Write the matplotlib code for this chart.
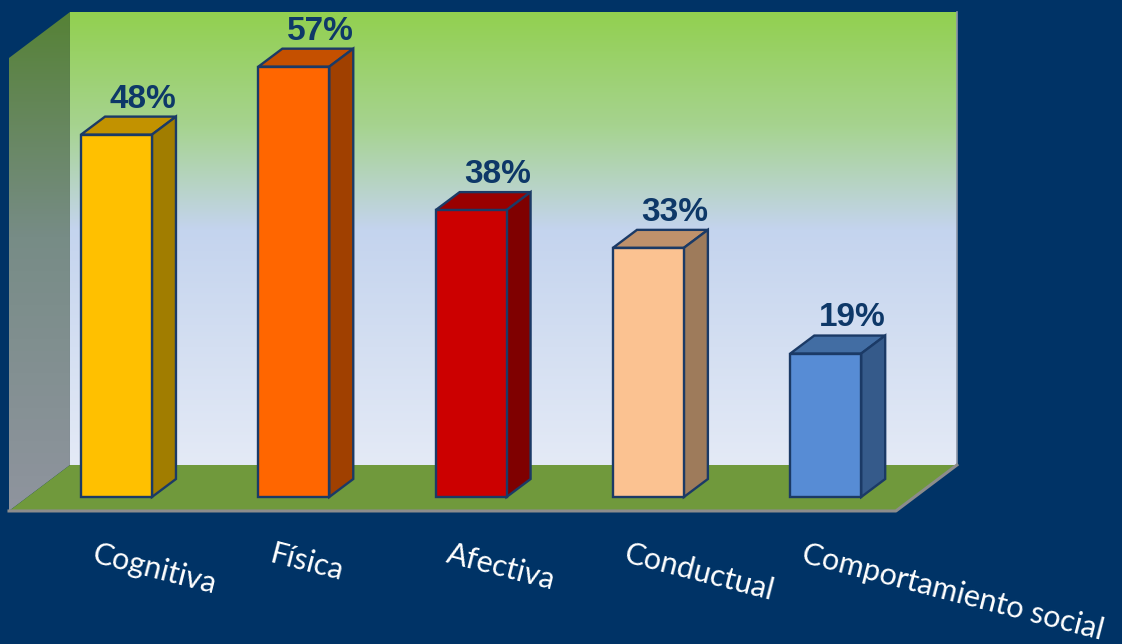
import numpy as np
import matplotlib
matplotlib.use('Agg')
import matplotlib.pyplot as plt
from matplotlib.patches import Polygon
from matplotlib.colors import LinearSegmentedColormap

categories = ['Cognitiva', 'Física', 'Afectiva', 'Conductual', 'Comportamiento social']
values = [48, 57, 38, 33, 19]
front_colors = ['#FFC000', '#FF6600', '#CC0000', '#FBC291', '#578CD5']
top_colors = ['#C29200', '#C55000', '#990000', '#BF916B', '#426DA3']
side_colors = ['#A17D00', '#A04000', '#7F0000', '#9E7B5B', '#355A8A']

bg = '#003366'
edge = '#1B3A66'

fig = plt.figure(figsize=(11.22, 6.44), dpi=100)
fig.patch.set_facecolor(bg)
ax = fig.add_axes([0, 0, 1, 1])
ax.set_xlim(-0.657, 5.671)
ax.set_ylim(-19.47, 65.83)
ax.axis('off')

# 3D frame (walls + floor)
wx0, wx1 = -0.2623, 4.740
wb, wt = 4.24, 64.24
ddx, ddy = 0.344, 6.09

back_cmap = LinearSegmentedColormap.from_list(
    'back', [(0, '#92D050'), (0.25, '#A6D38F'), (0.48, '#C4D4EE'), (1, '#E4EAF6')])
side_cmap = LinearSegmentedColormap.from_list(
    'side', [(0, '#568236'), (0.45, '#778C86'), (1, '#8F949E')])
grad = np.linspace(0, 1, 256).reshape(-1, 1)

ax.imshow(grad, cmap=back_cmap, aspect='auto', extent=(wx0, wx1, wb, wt),
          origin='upper', zorder=1)
ax.plot([wx1, wx1], [wb, wt], color='#8C96A8', lw=1.2, zorder=1.5)

side = Polygon([(wx0, wt), (wx0, wb), (wx0 - ddx, wb - ddy), (wx0 - ddx, wt - ddy)],
               closed=True, facecolor='none', edgecolor='none')
ax.add_patch(side)
im = ax.imshow(grad, cmap=side_cmap, aspect='auto',
               extent=(wx0 - ddx, wx0, wb - ddy, wt), origin='upper', zorder=1)
im.set_clip_path(side)

floor = Polygon([(wx0, wb), (wx1, wb), (wx1 - ddx, wb - ddy), (wx0 - ddx, wb - ddy)],
                closed=True, facecolor='#70993C', edgecolor='none', zorder=2)
ax.add_patch(floor)
ax.plot([wx0 - ddx, wx1 - ddx, wx1], [wb - ddy, wb - ddy, wb],
        color='#8C8C8C', lw=2.2, zorder=2.5)

# bars
x = np.arange(len(categories))
w = 0.4
dx, dy = 0.1354, 2.384
ax.bar(x, values, width=w, color=front_colors, edgecolor=edge, linewidth=1.7, zorder=4)
for xi, v, tc, sc in zip(x, values, top_colors, side_colors):
    top = Polygon([(xi - w / 2, v), (xi + w / 2, v), (xi + w / 2 + dx, v + dy),
                   (xi - w / 2 + dx, v + dy)], closed=True,
                  facecolor=tc, edgecolor=edge, lw=1.7, zorder=3)
    sd = Polygon([(xi + w / 2, 0), (xi + w / 2 + dx, dy), (xi + w / 2 + dx, v + dy),
                  (xi + w / 2, v)], closed=True,
                 facecolor=sc, edgecolor=edge, lw=1.7, zorder=3)
    ax.add_patch(top)
    ax.add_patch(sd)
    ax.text(xi + 0.15, v + dy + 1.2, f'{v}%', ha='center', va='baseline',
            fontsize=24, fontweight='bold', color='#0E3868',
            family='Liberation Sans', zorder=5)

for xi, cat in zip(x, categories):
    ax.text(xi - 0.113, -5.7, cat, ha='left', va='top', rotation=-14.5,
            rotation_mode='anchor', fontsize=22, color='white', family='Lato')

fig.savefig('out.png', dpi=100, facecolor=bg)
